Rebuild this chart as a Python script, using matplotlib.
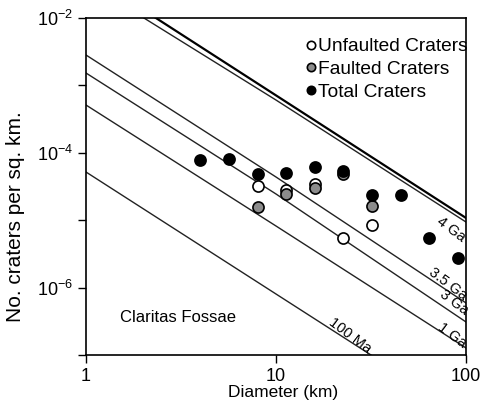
import numpy as np
import matplotlib
matplotlib.use("Agg")
from matplotlib import pyplot as plt

plt.rcParams['font.family'] = ['Liberation Sans', 'DejaVu Sans']
plt.rcParams['mathtext.default'] = 'regular'

# Crater diameter bins (km), sqrt(2) steps
diam_total = [4, 5.66, 8, 11.3, 16, 22.6, 32, 45.3, 64, 90.5]
n_total = [7.8e-5, 8.1e-5, 4.84e-5, 5.0e-5, 6.15e-5, 5.37e-5, 2.37e-5, 2.37e-5, 5.45e-6, 2.75e-6]

diam_unf = [8, 11.3, 16, 22.6, 32]
n_unf = [3.21e-5, 2.8e-5, 3.44e-5, 5.45e-6, 8.5e-6]

diam_flt = [8, 11.3, 16, 22.6, 32]
n_flt = [1.57e-5, 2.45e-5, 3.0e-5, 4.84e-5, 1.63e-5]

# isochrons, read at D = 1, 10, 100 km
iso_d = [1, 10, 100]
iso_sat = [10**-1.331, 10**-3.148, 10**-4.967]
iso_4ga = [10**-1.466, 10**-3.217, 10**-5.027]
iso_35ga = [10**-2.549, 10**-4.359, 10**-6.228]
iso_3ga = [10**-2.816, 10**-4.611, 10**-6.510]
iso_1ga = [10**-3.291, 10**-5.086, 10**-6.896]
iso_100ma = [10**-4.285, 10**-6.095, 10**-7.905]

fig = plt.figure(figsize=(4.87, 4.03), dpi=100)
ax = fig.add_axes([0.1766, 0.1191, 0.7803, 0.8362])

ax.plot(iso_d, iso_sat, color='black', lw=1.6, zorder=2)
for n in [iso_4ga, iso_35ga, iso_3ga, iso_1ga, iso_100ma]:
    ax.plot(iso_d, n, color='#222222', lw=1.0, zorder=2)

# labels on the isochrons
lab_kw = dict(fontsize=10.5, rotation=-37, ha='center', va='center', rotation_mode='anchor')
ax.text(83.4, 7.2e-6, '4 Ga', **lab_kw)
ax.text(80.4, 1.13e-6, '3.5 Ga', **lab_kw)
ax.text(86.5, 6.1e-7, '3 Ga', **lab_kw)
ax.text(84.4, 1.98e-7, '1 Ga', **lab_kw)
ax.text(24.5, 1.91e-7, '100 Ma', **lab_kw)

mk = dict(marker='o', ls='none', ms=8, mec='black', mew=1.2, zorder=3)
ax.plot(diam_unf, n_unf, mfc='white', label='Unfaulted Craters', **mk)
ax.plot(diam_flt, n_flt, mfc='#8c8c8c', label='Faulted Craters', **mk)
ax.plot(diam_total, n_total, mfc='black', label='Total Craters', **mk)

ax.text(0.089, 0.11, 'Claritas Fossae', transform=ax.transAxes, fontsize=12, va='center')

ax.set_xscale('log')
ax.set_yscale('log')
ax.set_xlim(1, 100)
ax.set_ylim(1e-7, 1e-2)

ax.set_xticks([1, 10, 100])
ax.set_xticklabels(['1', '10', '100'])
ax.set_yticks([1e-7, 1e-6, 1e-5, 1e-4, 1e-3, 1e-2])
ax.set_yticklabels(['', '$10^{-6}$', '', '$10^{-4}$', '', '$10^{-2}$'])
ax.minorticks_off()
ax.tick_params(direction='out', length=6, width=1.0, labelsize=13)
for s in ax.spines.values():
    s.set_linewidth(1.2)

ax.set_xlabel('Diameter (km)', fontsize=12.5)
ax.xaxis.set_label_coords(0.518, -0.09)
ax.set_ylabel('No. craters per sq. km.', fontsize=15)
ax.yaxis.set_label_coords(-0.16, 0.412)

ax.legend(loc='upper right', bbox_to_anchor=(1.035, 0.975), frameon=False, fontsize=13.8,
          markerscale=0.75, handletextpad=0.1, handlelength=0.6, labelspacing=0.27,
          borderaxespad=0.2)

fig.savefig('out.png', dpi=100)
